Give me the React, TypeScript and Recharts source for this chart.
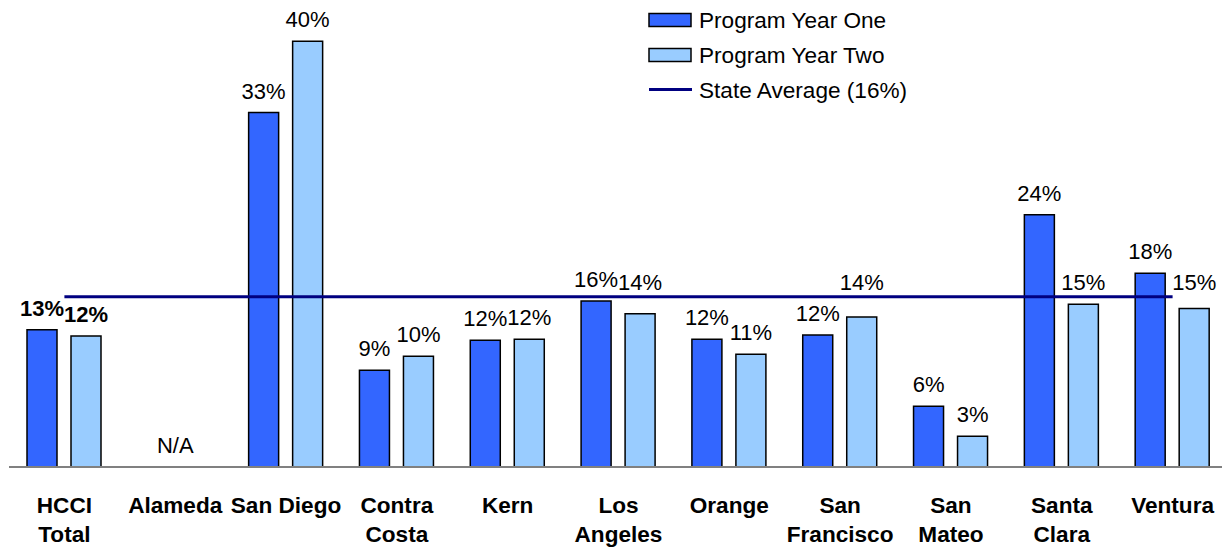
import { ComposedChart, Bar, Line, XAxis, YAxis, LabelList, ReferenceDot } from "recharts";

const FONT = '"Liberation Sans", Arial, sans-serif';

const categories = [
  "HCCI Total",
  "Alameda",
  "San Diego",
  "Contra Costa",
  "Kern",
  "Los Angeles",
  "Orange",
  "San Francisco",
  "San Mateo",
  "Santa Clara",
  "Ventura",
];

// how each category name wraps under the axis
const tickLines = [
  ["HCCI", "Total"],
  ["Alameda"],
  ["San Diego"],
  ["Contra", "Costa"],
  ["Kern"],
  ["Los", "Angeles"],
  ["Orange"],
  ["San", "Francisco"],
  ["San", "Mateo"],
  ["Santa", "Clara"],
  ["Ventura"],
];

const yearOne = [12.9, null, 33.3, 9.1, 11.9, 15.6, 12.0, 12.4, 5.7, 23.7, 18.2];
const yearTwo = [12.3, null, 40.0, 10.4, 12.0, 14.4, 10.6, 14.1, 2.9, 15.3, 14.9];
const stateAverage = 16;
const missingLabel = "N/A";

const data = categories.map((name, i) => ({
  name,
  yearOne: yearOne[i],
  yearTwo: yearTwo[i],
  avg: stateAverage,
}));

const renderValueLabel = (props: any) => {
  const vb = props.viewBox ?? {};
  const x = props.x ?? vb.x;
  const y = props.y ?? vb.y;
  const width = props.width ?? vb.width;
  const height = props.height ?? vb.height;
  const raw = Array.isArray(props.value) ? props.value[1] : props.value;
  if (raw == null || raw === "" || !height) return null;
  const value = Number(raw);

  // keep labels clear of the state average line
  const base = y + height;
  const lineY = base - (stateAverage * height) / value;
  let ty = y - 14;
  if (ty - 16 < lineY + 1.5 && ty + 2 > lineY - 1.5) ty = lineY - 7;

  const isTotal = props.index === 0;
  return (
    <text
      x={x + width / 2}
      y={ty}
      textAnchor="middle"
      fontSize={22}
      fontWeight={isTotal ? 700 : 400}
      fontFamily={FONT}
      fill="#000"
    >
      {Math.round(value)}%
    </text>
  );
};

const CategoryTick = (props: any) => {
  const { x, y, payload } = props;
  const idx = categories.indexOf(payload.value);
  const lines = idx >= 0 ? tickLines[idx] : [payload.value];
  return (
    <text x={x} y={y} textAnchor="middle" fontSize={22.6} fontWeight={700} fontFamily={FONT} fill="#000">
      {lines.map((line, i) => (
        <tspan key={i} x={x} dy={i === 0 ? 46 : 28.5}>
          {line}
        </tspan>
      ))}
    </text>
  );
};

function ChartLegend() {
  const rows = [
    { label: "Program Year One", kind: "bar", color: "#3366FF" },
    { label: "Program Year Two", kind: "bar", color: "#99CCFF" },
    { label: `State Average (${stateAverage}%)`, kind: "line", color: "#000080" },
  ];
  return (
    <svg
      width={330}
      height={110}
      style={{ position: "absolute", left: 640, top: 0, pointerEvents: "none" }}
    >
      {rows.map((row, i) => {
        const cy = 20 + i * 35;
        return (
          <g key={row.label}>
            {row.kind === "bar" ? (
              <rect x={9} y={cy - 6.5} width={42} height={13} fill={row.color} stroke="#000" strokeWidth={1.5} />
            ) : (
              <line x1={9} x2={52} y1={cy - 0.5} y2={cy - 0.5} stroke={row.color} strokeWidth={3} />
            )}
            <text x={59} y={cy + 8} fontSize={22.6} fontFamily={FONT} fill="#000">
              {row.label}
            </text>
          </g>
        );
      })}
    </svg>
  );
}

export default function App() {
  return (
    <div
      style={{
        position: "absolute",
        left: 0,
        top: 0,
        width: 1222,
        height: 548,
        overflow: "hidden",
        background: "#fff",
      }}
    >
      <ComposedChart
        width={1230}
        height={548}
        data={data}
        margin={{ top: 20, right: 2, bottom: 0, left: 9 }}
        barSize={30}
        barGap={14}
      >
        <XAxis
          dataKey="name"
          interval={0}
          height={81}
          tickLine={false}
          tickSize={0}
          tickMargin={0}
          axisLine={{ stroke: "#808080", strokeWidth: 2 }}
          tick={<CategoryTick />}
        />
        <YAxis hide domain={[0, 42]} />
        <Bar dataKey="yearOne" fill="#3366FF" stroke="#000" strokeWidth={1.5} isAnimationActive={false}>
          <LabelList dataKey="yearOne" content={renderValueLabel} />
        </Bar>
        <Bar dataKey="yearTwo" fill="#99CCFF" stroke="#000" strokeWidth={1.5} isAnimationActive={false}>
          <LabelList dataKey="yearTwo" content={renderValueLabel} />
        </Bar>
        <Line
          dataKey="avg"
          stroke="#000080"
          strokeWidth={3}
          dot={false}
          activeDot={false}
          isAnimationActive={false}
        />
        <ReferenceDot
          x="Alameda"
          y={0}
          r={0}
          shape={(p: any) => (
            <text x={p.cx} y={p.cy - 14} textAnchor="middle" fontSize={22} fontFamily={FONT} fill="#000">
              {missingLabel}
            </text>
          )}
        />
      </ComposedChart>
      <ChartLegend />
    </div>
  );
}
